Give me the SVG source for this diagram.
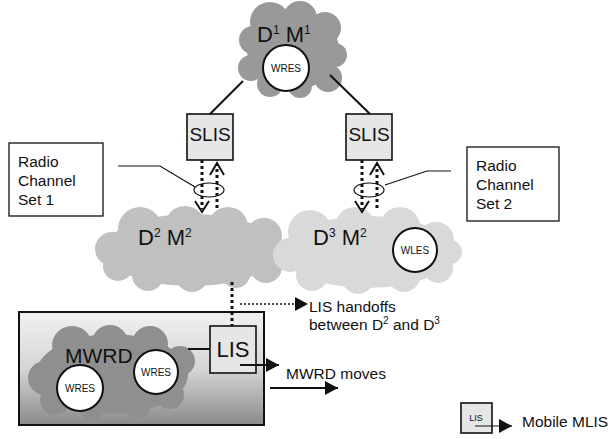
<svg xmlns="http://www.w3.org/2000/svg" width="610" height="439" viewBox="0 0 610 439">
  <style>
    text { font-family: "Liberation Sans", Arial, sans-serif; fill: #111; }
    .box { fill: #e6e6e6; stroke: #111; stroke-width: 1.6; }
    .note { fill: #fff; stroke: #111; stroke-width: 1.3; }
    .res { fill: #fff; stroke: #111; stroke-width: 2; }
    .res-label { font-size: 10px; text-anchor: middle; }
    .big { font-size: 22px; }
    .sup { font-size: 12px; }
    .sup-s { font-size: 10px; }
    .mid { font-size: 15.5px; }
    .solid { stroke: #111; stroke-width: 2; fill: none; }
    .thin { stroke: #111; stroke-width: 1.2; fill: none; }
    .dots { stroke: #111; stroke-width: 3; stroke-dasharray: 3 3; fill: none; }
    .fine-dots { stroke: #111; stroke-width: 1.4; stroke-dasharray: 2 2; fill: none; }
    .vhead { stroke: #111; stroke-width: 2; fill: none; }
  </style>
  <defs>
    <marker id="tri" markerUnits="userSpaceOnUse" markerWidth="14" markerHeight="16" refX="13" refY="7" orient="auto">
      <path d="M0,0 L13,7 L0,14 Z" fill="#111"/>
    </marker>
    <linearGradient id="mwrdFill" x1="0" y1="0" x2="0" y2="1">
      <stop offset="0" stop-color="#f0f0f0"/>
      <stop offset="0.5" stop-color="#d6d6d6"/>
      <stop offset="1" stop-color="#8a8a8a"/>
    </linearGradient>
  </defs>

  <!-- upper domain D1 M1 -->
  <g id="cloud-d1m1">
    <g fill="#999999">
      <ellipse cx="293" cy="50" rx="46" ry="40"/>
      <circle cx="270" cy="22" r="20"/>
      <circle cx="300" cy="18" r="17"/>
      <circle cx="325" cy="28" r="16"/>
      <circle cx="335" cy="55" r="12"/>
      <circle cx="328" cy="78" r="14"/>
      <circle cx="300" cy="86" r="12"/>
      <circle cx="270" cy="84" r="13"/>
      <circle cx="251" cy="68" r="13"/>
      <circle cx="253" cy="40" r="14"/>
    </g>
    <text class="big" x="257" y="42">D<tspan class="sup" dy="-8">1</tspan><tspan dy="8"> M</tspan><tspan class="sup" dy="-8">1</tspan></text>
    <circle class="res" cx="286" cy="68" r="23"/>
    <text class="res-label" x="286" y="72">WRES</text>
  </g>

  <!-- serving LIS nodes -->
  <g id="slis-1">
    <rect class="box" x="187" y="114" width="46" height="46"/>
    <text x="210" y="141" font-size="19" text-anchor="middle">SLIS</text>
  </g>
  <g id="slis-2">
    <rect class="box" x="346" y="114" width="46" height="46"/>
    <text x="369" y="141" font-size="19" text-anchor="middle">SLIS</text>
  </g>

  <!-- radio channel notes -->
  <g id="rcs-1">
    <rect class="note" x="9" y="143" width="94" height="73"/>
    <text class="mid" x="18" y="167">Radio</text>
    <text class="mid" x="18" y="186">Channel</text>
    <text class="mid" x="18" y="205">Set 1</text>
  </g>
  <g id="rcs-2">
    <rect class="note" x="467" y="147" width="92" height="74"/>
    <text class="mid" x="476" y="171">Radio</text>
    <text class="mid" x="476" y="190">Channel</text>
    <text class="mid" x="476" y="209">Set 2</text>
  </g>

  <!-- lower domain D2 M2 -->
  <g id="cloud-d2m2">
    <g fill="#c0c0c0">
      <ellipse cx="192" cy="250" rx="88" ry="36"/>
      <circle cx="140" cy="229" r="22"/>
      <circle cx="185" cy="226" r="20"/>
      <circle cx="228" cy="227" r="20"/>
      <circle cx="264" cy="236" r="18"/>
      <circle cx="112" cy="249" r="17"/>
      <circle cx="118" cy="266" r="15"/>
      <circle cx="148" cy="275" r="16"/>
      <circle cx="192" cy="276" r="16"/>
      <circle cx="236" cy="274" r="14"/>
      <circle cx="266" cy="267" r="16"/>
      <circle cx="278" cy="252" r="12"/>
    </g>
    <text class="big" x="138" y="245">D<tspan class="sup" dy="-8">2</tspan><tspan dy="8"> M</tspan><tspan class="sup" dy="-8">2</tspan></text>
  </g>

  <!-- lower domain D3 M2 -->
  <g id="cloud-d3m2">
    <g fill="#d9d9d9">
      <ellipse cx="368" cy="252" rx="85" ry="36"/>
      <circle cx="310" cy="232" r="22"/>
      <circle cx="355" cy="227" r="20"/>
      <circle cx="400" cy="227" r="20"/>
      <circle cx="436" cy="240" r="18"/>
      <circle cx="290" cy="255" r="17"/>
      <circle cx="312" cy="275" r="16"/>
      <circle cx="358" cy="278" r="16"/>
      <circle cx="404" cy="276" r="16"/>
      <circle cx="438" cy="268" r="15"/>
      <circle cx="450" cy="252" r="12"/>
    </g>
    <text class="big" x="313" y="245">D<tspan class="sup" dy="-8">3</tspan><tspan dy="8"> M</tspan><tspan class="sup" dy="-8">2</tspan></text>
    <circle class="res" cx="415" cy="250" r="22"/>
    <text class="res-label" x="415" y="254">WLES</text>
  </g>

  <!-- mobile wireless routing domain -->
  <g id="mwrd">
    <rect x="19" y="312" width="245" height="113" fill="url(#mwrdFill)" stroke="#111" stroke-width="2"/>
    <g fill="#8f8f8f">
      <ellipse cx="112" cy="374" rx="76" ry="40"/>
      <circle cx="72" cy="346" r="20"/>
      <circle cx="110" cy="343" r="18"/>
      <circle cx="150" cy="344" r="18"/>
      <circle cx="180" cy="361" r="15"/>
      <circle cx="45" cy="378" r="17"/>
      <circle cx="55" cy="400" r="15"/>
      <circle cx="92" cy="408" r="12"/>
      <circle cx="138" cy="407" r="12"/>
      <circle cx="170" cy="395" r="14"/>
    </g>
    <text x="65" y="363" font-size="21">MWRD</text>
    <circle class="res" cx="80" cy="388" r="23"/>
    <text class="res-label" x="80" y="392">WRES</text>
    <circle class="res" cx="156" cy="372" r="22"/>
    <text class="res-label" x="156" y="376">WRES</text>
  </g>

  <!-- connectors -->
  <g id="connectors">
    <line class="solid" x1="243" y1="81" x2="210" y2="114"/>
    <line class="solid" x1="330" y1="75" x2="370" y2="114"/>

    <line class="dots" x1="202" y1="160" x2="202" y2="209"/>
    <polyline class="vhead" points="195,201 202,212 209,201"/>
    <line class="dots" x1="217" y1="208" x2="217" y2="165"/>
    <polyline class="vhead" points="210,175 217,163 224,175"/>
    <ellipse class="thin" cx="209" cy="190" rx="15" ry="7"/>
    <polyline class="thin" points="118,166 160,166 195,187"/>

    <line class="dots" x1="362" y1="160" x2="362" y2="209"/>
    <polyline class="vhead" points="355,201 362,212 369,201"/>
    <line class="dots" x1="377" y1="208" x2="377" y2="165"/>
    <polyline class="vhead" points="370,175 377,163 384,175"/>
    <ellipse class="thin" cx="369" cy="190" rx="15" ry="7"/>
    <polyline class="thin" points="385,185 427,171 451,171"/>

    <line class="dots" x1="232" y1="282" x2="232" y2="326"/>
    <line class="fine-dots" x1="240" y1="304" x2="308" y2="304" marker-end="url(#tri)"/>

    <line class="solid" x1="188" y1="349" x2="210" y2="349"/>
    <line class="solid" x1="270" y1="388" x2="338" y2="388" marker-end="url(#tri)"/>
  </g>

  <!-- location information server carried by the MWRD -->
  <g id="lis">
    <rect class="box" x="210" y="326" width="46" height="47"/>
    <text x="233" y="357" font-size="22" text-anchor="middle">LIS</text>
    <line class="solid" x1="240" y1="365" x2="279" y2="365" marker-end="url(#tri)"/>
  </g>

  <!-- captions -->
  <g id="labels">
    <text class="mid" x="309" y="312">LIS handoffs</text>
    <text class="mid" x="309" y="330">between D<tspan class="sup-s" dy="-6">2</tspan><tspan dy="6"> and D</tspan><tspan class="sup-s" dy="-6">3</tspan></text>
    <text class="mid" x="286" y="379">MWRD moves</text>
  </g>

  <!-- legend -->
  <g id="legend">
    <rect class="box" x="461" y="403" width="31" height="30"/>
    <text x="476" y="421" font-size="9" text-anchor="middle">LIS</text>
    <line class="thin" x1="475" y1="426" x2="512" y2="426" stroke-width="1.5" marker-end="url(#tri)"/>
    <text class="mid" x="522" y="427">Mobile MLIS</text>
  </g>
</svg>
